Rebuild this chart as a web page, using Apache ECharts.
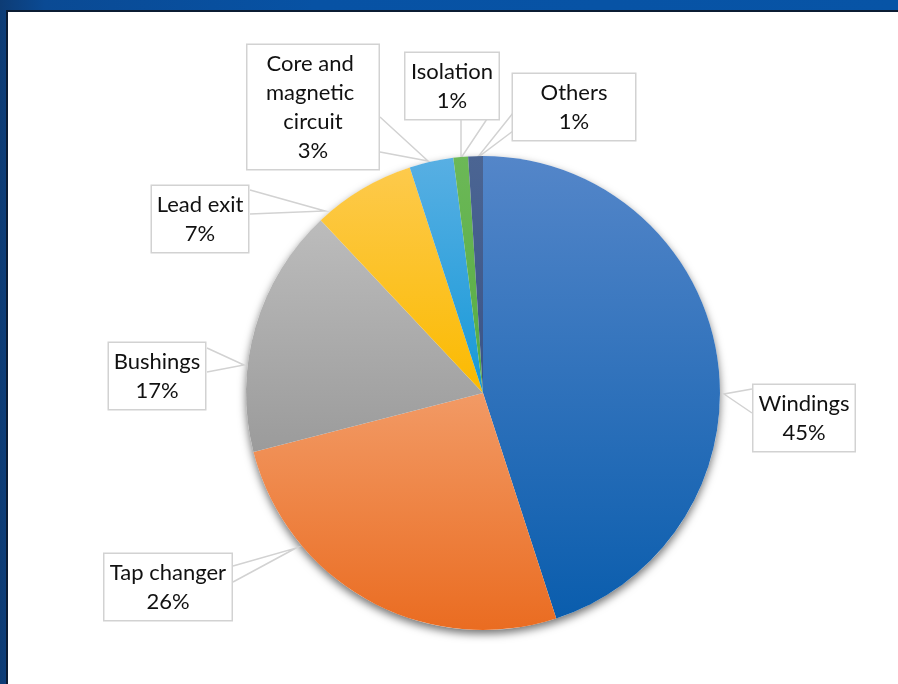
<!DOCTYPE html>
<html>
<head>
<meta charset="utf-8">
<script src="https://cdn.jsdelivr.net/npm/echarts@6/dist/echarts.min.js"></script>
<style>
  html, body { margin: 0; padding: 0; width: 898px; height: 684px; overflow: hidden;
    background: linear-gradient(to right, #0d3c75 0%, #0a4a94 5%, #0752a4 35%, #0754a6 100%); }
  #panel { position: absolute; left: 6px; top: 10px; width: 900px; height: 700px; background: #fff;
    border-left: 2px solid #0b1c33; border-top: 2px solid #0b1c33; }
  #chart { position: absolute; left: 0; top: 0; width: 898px; height: 684px; }
</style>
</head>
<body>
<div id="panel"></div>
<div id="chart"></div>
<script>
// Failure locations of power transformers (share of failures, %)
const categories = ['Windings', 'Tap changer', 'Bushings', 'Lead exit', 'Core and magnetic circuit', 'Isolation', 'Others'];
const shares = [45, 26, 17, 7, 3, 1, 1];

// Slice fills: light top shade, deeper bottom shade
const shadeTop = ['#5486c9', '#f29a65', '#bcbcbc', '#fdca4c', '#58afe3', '#6cb857', '#4b6593'];
const shadeBottom = ['#0a5dad', '#ea6c21', '#9b9b9b', '#fbba00', '#1699d8', '#56ac43', '#3a5387'];

// Callout boxes: centre, box width, and the tail (two base points on the box edge, tip near the pie)
const callouts = [
  { cx: 804, cy: 418, w: 104, tip: [724, 394], a: [752, 389], b: [752, 413] },
  { cx: 168, cy: 587, w: 130, tip: [296, 548], a: [233, 566], b: [233, 582] },
  { cx: 157, cy: 376, w: 99, tip: [244, 365], a: [207, 348], b: [207, 372] },
  { cx: 200, cy: 219, w: 99, tip: [325, 211], a: [250, 190], b: [250, 214] },
  { cx: 313, cy: 107, w: 134, tip: [428, 161], a: [380, 117], b: [380, 152] },
  { cx: 452, cy: 86, w: 96, tip: [461, 158], a: [461, 119], b: [487, 119] },
  { cx: 574, cy: 107, w: 125, tip: [477, 158], a: [513, 113], b: [513, 131] }
];

const chart = echarts.init(document.getElementById('chart'), null, { renderer: 'canvas' });

const pieData = categories.map((name, i) => ({
  name: name,
  value: shares[i],
  itemStyle: {
    color: new echarts.graphic.LinearGradient(0, 0, 0, 1, [
      { offset: 0, color: shadeTop[i] },
      { offset: 1, color: shadeBottom[i] }
    ])
  }
}));

const total = shares.reduce((s, v) => s + v, 0);
const center = [483, 393];
const radius = 237;

chart.setOption({
  animation: false,
  series: [
    {
      // backing disc that casts the pie's drop shadow
      type: 'pie',
      silent: true,
      center: center,
      radius: radius,
      z: 1,
      label: { show: false },
      labelLine: { show: false },
      data: [{ value: total, itemStyle: { color: '#ffffff', shadowBlur: 9, shadowOffsetY: 4, shadowColor: 'rgba(0,0,0,0.55)' } }]
    },
    {
      type: 'pie',
      center: center,
      radius: radius,
      startAngle: 90,
      clockwise: true,
      z: 2,
      avoidLabelOverlap: false,
      emphasis: { disabled: true },
      itemStyle: { borderWidth: 0 },
      label: {
        show: true,
        position: 'outside',
        formatter: p => p.name + '\n' + p.value + '%',
        fontFamily: 'Lato',
        fontSize: 22,
        lineHeight: 29,
        color: '#111111',
        backgroundColor: '#ffffff',
        borderColor: '#d2d2d2',
        borderWidth: 1.5,
        padding: [4, 0],
        overflow: 'break'
      },
      labelLine: {
        show: true,
        smooth: false,
        lineStyle: { color: '#d2d2d2', width: 1.5 }
      },
      labelLayout: function (params) {
        const c = callouts[params.dataIndex];
        return {
          x: c.cx,
          y: c.cy,
          align: 'center',
          verticalAlign: 'middle',
          width: c.w - 3,
          labelLinePoints: [c.a, c.tip, c.b]
        };
      },
      data: pieData
    }
  ]
});
</script>
</body>
</html>
